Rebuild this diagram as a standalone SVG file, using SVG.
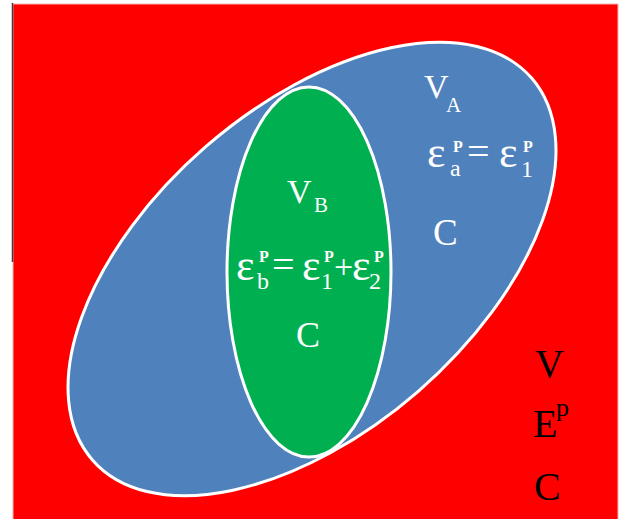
<svg xmlns="http://www.w3.org/2000/svg" width="636" height="519" viewBox="0 0 636 519">
<style>
text{font-family:"Liberation Serif","Times New Roman",serif}
.w{fill:#fff}
.k{fill:#000}
.sp{font-size:16px;font-weight:bold}
.sh{stroke:#fff;stroke-width:3}
</style>
<rect x="0" y="0" width="636" height="519" fill="#fff"/>
<g id="universe">
<rect x="13" y="4" width="605" height="516" fill="#f00" stroke="#f6b4b4" stroke-width="1"/>
<line x1="12.5" y1="3" x2="12.5" y2="262" stroke="#4a3333" stroke-width="1.5"/>
<text class="k" x="535" y="377" font-size="40">V</text>
<text class="k" x="533" y="437" font-size="40">E</text>
<text class="k" x="556" y="416" font-size="26">p</text>
<text class="k" x="534" y="500" font-size="40">C</text>
</g>
<g id="setA">
<ellipse class="sh" cx="312" cy="269" rx="291" ry="162" transform="rotate(-41 312 269)" fill="#4f81bd"/>
<text class="w" x="424" y="98" font-size="34">V</text>
<text class="w" x="446" y="112" font-size="21">A</text>
<text class="w" x="427" y="167" font-size="44">ε</text>
<text class="w sp" x="453" y="152">P</text>
<text class="w" x="450" y="176" font-size="24">a</text>
<text class="w" x="467" y="165" font-size="40">=</text>
<text class="w" x="499" y="167" font-size="44">ε</text>
<text class="w sp" x="523" y="152">P</text>
<text class="w" x="521" y="177" font-size="24">1</text>
<text class="w" x="433" y="245" font-size="37">C</text>
</g>
<g id="setB">
<ellipse class="sh" cx="309" cy="272" rx="82" ry="185" fill="#00b050"/>
<text class="w" x="287" y="203" font-size="34">V</text>
<text class="w" x="314" y="212" font-size="21">B</text>
<text class="w" x="236" y="280" font-size="44">ε</text>
<text class="w sp" x="259" y="262">P</text>
<text class="w" x="257" y="289" font-size="24">b</text>
<text class="w" x="272" y="278" font-size="40">=</text>
<text class="w" x="302" y="280" font-size="44">ε</text>
<text class="w sp" x="324" y="262">P</text>
<text class="w" x="321" y="289" font-size="24">1</text>
<text class="w" x="334" y="278" font-size="34">+</text>
<text class="w" x="352" y="280" font-size="44">ε</text>
<text class="w sp" x="374" y="262">P</text>
<text class="w" x="369" y="289" font-size="24">2</text>
<text class="w" x="296" y="347" font-size="36">C</text>
</g>
</svg>
